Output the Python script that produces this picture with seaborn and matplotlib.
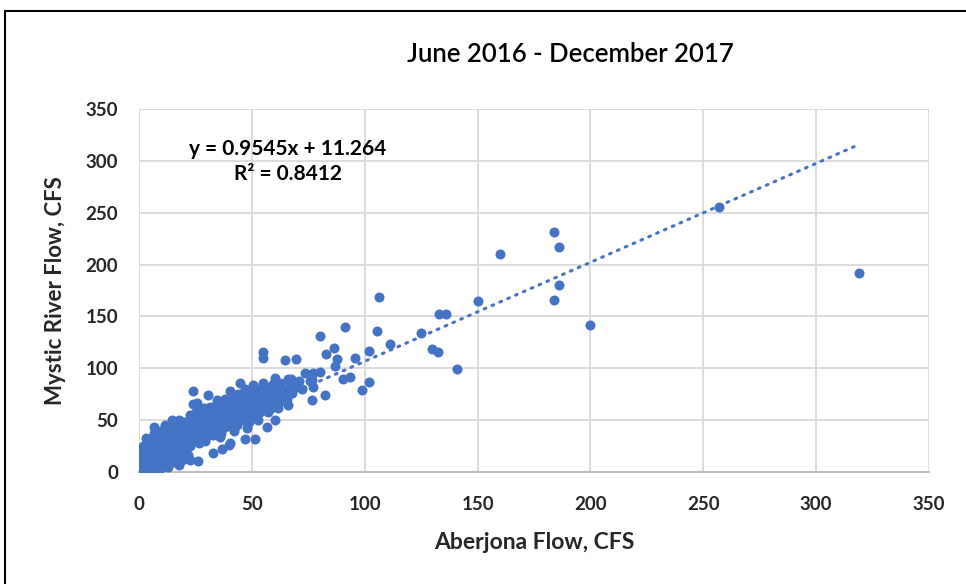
import numpy as np
import pandas as pd
import seaborn as sns
import matplotlib.pyplot as plt
from matplotlib.lines import Line2D

# daily flows (Aberjona = x, Mystic = y), grouped by x range
aberjona_cfs = [
    # 0-3
    0.5, 1, 1.5, 2, 2.5, 3, 0.8, 1.2, 2.2, 2.8,
    0.3, 1.8, 2.6, 0.9, 1.4, 3, 2, 0.6, 2.4, 1.1,
    1.6, 2.9, 0.4, 1.3, 2.1, 0.7, 2.7, 1.9, 0.2, 3,
    # 3-6
    3.5, 4, 4.5, 5, 5.5, 6, 3.8, 4.3, 4.8, 5.3,
    5.8, 3.3, 4.1, 4.9, 5.6, 3.6, 4.6, 5.1, 5.9, 4.4,
    3.2, 6, 5.2, 4.7, 3.9,
    # 6-10
    6.5, 7, 7.5, 8, 8.5, 9, 9.5, 10, 6.8, 7.3,
    7.8, 8.3, 8.8, 9.3, 9.8, 6.6, 7.1, 7.6, 8.1, 8.6,
    9.1, 9.6, 6.2, 7.9, 8.9,
    # 10-15
    10.5, 11, 11.5, 12, 12.5, 13, 13.5, 14, 14.5, 15,
    10.8, 11.3, 11.8, 12.3, 12.8, 13.3, 13.8, 14.3, 14.8, 11.2,
    10.2, 12.6, 13.9, 14.6, 11.7, 13.1, 12.1, 14.9,
    # 15-20
    15.5, 16, 16.5, 17, 17.5, 18, 18.5, 19, 19.5, 20,
    15.3, 15.8, 16.3, 16.8, 17.3, 17.8, 18.3, 18.8, 19.3, 19.8,
    16.1, 17.2, 18.1, 19.1, 20, 15.7, 17.6, 18.9,
    # 20-25
    20.5, 21, 21.5, 22, 22.5, 23, 23.5, 24, 24.5, 25,
    20.8, 21.3, 21.8, 22.3, 22.8, 23.3, 23.8, 24.3, 24.8, 22.6,
    24, 25.6, 26, 21.6, 23.1, 20.3, 24.6, 22.6,
    # 25-30
    25.5, 26, 26.5, 27, 27.5, 28, 28.5, 29, 29.5, 30,
    25.3, 25.8, 26.3, 26.8, 27.3, 27.8, 28.3, 28.8, 29.3, 29.8,
    26.4, 27.6, 28.6, 29.6, 30, 25.1, 28.2, 29.1,
    # 30-35
    30.5, 31, 31.5, 32, 32.5, 33, 33.5, 34, 34.5, 35,
    30.7, 31.3, 31.8, 32.3, 32.8, 33.3, 33.8, 34.3, 34.8, 33,
    34.4, 30.2, 31.6, 32.6, 34.1, 35,
    # 35-40
    35.5, 36, 36.5, 37, 37.5, 38, 38.5, 39, 39.5, 40,
    35.8, 36.3, 36.6, 37.3, 37.8, 38.3, 38.8, 39.3, 39.9, 36,
    40.3, 38, 37, 39.6, 35.2,
    # 40-45
    40.5, 41, 41.5, 42, 42.5, 43, 43.5, 44, 44.5, 45,
    40.8, 41.3, 41.8, 42.3, 42.8, 43.3, 43.8, 44.3, 44.7, 40.3,
    42, 44, 45, 41, 43.6,
    # 45-50
    45.5, 46, 46.5, 47, 47.5, 48, 48.5, 49, 49.5, 50,
    45.8, 46.3, 47, 47.8, 48.3, 48.8, 49.3, 49.8, 46.8, 48,
    50, 46, 49,
    # 50-55
    50.6, 51, 51.4, 52, 52.5, 53, 53.5, 54, 54.5, 55,
    50.8, 51.5, 52.3, 53.3, 54.3, 55, 55, 51.8, 53.8, 52.8,
    # 55-60
    55.5, 56, 56.6, 57, 57.5, 58, 58.5, 59, 59.5, 60,
    56.3, 57.3, 58.3, 59.3, 55.8, 60,
    # 60-70
    60.3, 60.3, 61, 62, 63, 64, 65, 66.2, 66.2, 67,
    68, 69, 64.7, 69.6, 62.5, 65.5, 67.5, 61.5, 66, 68.4,
    # 70-95
    73.5, 77.2, 80.2, 75.8, 76.5, 77.2, 82.4, 76.5, 72, 71,
    82.9, 80, 86.5, 87.9, 87, 90.5, 93.5,
    # sparse high-flow days
    91.3, 95.7, 99, 102, 102, 105.3, 106.2, 111.2, 125, 130,
    132.3, 133, 136.1, 141, 150, 160, 184, 184, 186, 186,
    200, 257, 319,
]
mystic_cfs = [
    # 0-3
    2, 5, 8, 3, 12, 6, 15, 10, 18, 1,
    9, 14, 4, 20, 0.5, 11, 7, 13, 16, 3,
    19, 9, 6, 12, 22, 17, 2, 25, 11, 15,
    # 3-6
    3, 8, 13, 18, 2, 22, 26, 10, 5, 15,
    9, 20, 1, 28, 12, 7, 24, 0, 30, 17,
    33, 4, 19, 11, 14,
    # 6-10
    5, 12, 20, 28, 8, 16, 25, 33, 38, 2,
    10, 18, 30, 3, 22, 43, 15, 35, 6, 26,
    12, 40, 26, 24, 37,
    # 10-15
    8, 15, 22, 30, 38, 12, 27, 35, 20, 45,
    25, 45, 10, 18, 5, 33, 40, 14, 28, 36,
    18, 24, 22, 50, 32, 43, 41, 10,
    # 15-20
    15, 25, 33, 40, 7, 20, 30, 38, 45, 28,
    48, 22, 12, 30, 36, 44, 25, 17, 33, 40,
    40, 27, 35, 23, 48, 35, 50, 12,
    # 20-25
    20, 35, 42, 28, 50, 38, 45, 32, 55, 40,
    30, 48, 38, 44, 25, 33, 78, 40, 50, 55,
    66, 67, 10.6, 16, 52, 40, 36, 11.6,
    # 25-30
    30, 45, 38, 50, 42, 35, 55, 48, 40, 52,
    48, 36, 55, 42, 60, 45, 38, 52, 46, 35,
    28, 30, 62, 58, 58, 58, 44, 30,
    # 30-35
    40, 48, 55, 45, 52, 38, 60, 50, 44, 58,
    74, 42, 50, 62, 47, 55, 42, 65, 52, 18.6,
    69, 35, 63, 36, 56, 48,
    # 35-40
    45, 52, 60, 42, 55, 48, 65, 50, 58, 62,
    66, 38, 22.5, 64, 52, 45, 60, 56, 26, 34,
    78, 70, 68, 44, 62,
    # 40-45
    48, 55, 62, 52, 58, 50, 65, 56, 60, 68,
    60, 45, 70, 64, 48, 72, 55, 62, 85.5, 27.7,
    40, 75, 52, 66, 45,
    # 45-50
    58, 65, 55, 62, 70, 60, 66, 55, 72, 64,
    75, 50, 31.5, 58, 78, 48, 62, 68, 80, 42,
    52, 70, 75,
    # 50-55
    83.9, 65, 31.5, 70, 60, 72, 58, 68, 75, 85.5,
    55, 62, 78, 66, 62, 116, 109.7, 74, 80, 50,
    # 55-60
    70, 62, 43.7, 75, 68, 80, 72, 65, 78, 70,
    82, 58, 62, 85, 66, 75,
    # 60-70
    90.3, 50, 72, 78, 68, 80, 75, 89.4, 64.6, 82,
    76, 85, 108, 108.7, 86, 70, 90, 62, 88.7, 81.7,
    # 70-95
    95, 95.8, 96, 88, 88.7, 82.3, 74, 69.4, 80, 88,
    113.8, 131.5, 119.9, 108.7, 102, 89.4, 91.3,
    # sparse high-flow days
    139.5, 110, 78.8, 86.8, 117, 136, 169, 123, 134.3, 118.9,
    115.4, 152.6, 152, 99, 165, 210, 231, 166, 217, 180,
    141.7, 255.5, 192,
]

# Excel linear trendline reported on the chart
trend_slope = 0.9545
trend_intercept = 11.264
trend_label = "y = 0.9545x + 11.264\nR² = 0.8412"

title = "June 2016 - December 2017"
x_label = "Aberjona Flow, CFS"
y_label = "Mystic River Flow, CFS"
ticks = [0, 50, 100, 150, 200, 250, 300, 350]

blue = "#4472C4"

df = pd.DataFrame({"aberjona": aberjona_cfs, "mystic": mystic_cfs})

sns.set_theme(style="whitegrid")
plt.rcParams["font.family"] = ["Lato", "DejaVu Sans"]

fig = plt.figure(figsize=(9.66, 5.84), dpi=100)
ax = fig.add_axes([139 / 966, 112 / 584, 790 / 966, 363 / 584])

sns.scatterplot(data=df, x="aberjona", y="mystic", ax=ax, color=blue,
                s=52, linewidth=0, zorder=3)

xs = np.array([df["aberjona"].min(), df["aberjona"].max()])
ax.plot(xs, trend_slope * xs + trend_intercept, color=blue, lw=2.2,
        linestyle=(0, (0.6, 2.2)), dash_capstyle="round", zorder=4)

ax.text(66, 299, trend_label, ha="center", va="center", fontsize=15,
        fontweight="bold", color="black", linespacing=1.3)

ax.set_xlim(0, 350)
ax.set_ylim(0, 350)
ax.set_xticks(ticks)
ax.set_yticks(ticks)
ax.grid(True, color="#D9D9D9", lw=1.3)
ax.tick_params(axis="x", length=0, labelsize=13.5, pad=17)
ax.tick_params(axis="y", length=0, labelsize=13.5, pad=15)
for lab in ax.get_xticklabels() + ax.get_yticklabels():
    lab.set_fontweight("bold")
for side in ["top", "left", "right"]:
    ax.spines[side].set_visible(False)
ax.spines["bottom"].set_color("#BFBFBF")
ax.spines["bottom"].set_linewidth(1.5)

ax.set_xlabel(x_label, fontsize=16.5, fontweight="bold", labelpad=14)
ax.set_ylabel(y_label, fontsize=16, fontweight="bold", labelpad=14)

fig.text(570 / 966, 1 - 55 / 584, title, ha="center", va="center",
         fontsize=18.5, fontweight="semibold", color="black")

# chart frame (top and left edges visible in the crop)
fig.add_artist(Line2D([5 / 966, 1], [1 - 11 / 584, 1 - 11 / 584],
                      transform=fig.transFigure, color="black", lw=1.5))
fig.add_artist(Line2D([5 / 966, 5 / 966], [0, 1 - 11 / 584],
                      transform=fig.transFigure, color="black", lw=1.5))

fig.savefig("out.png", dpi=100, facecolor="white")
